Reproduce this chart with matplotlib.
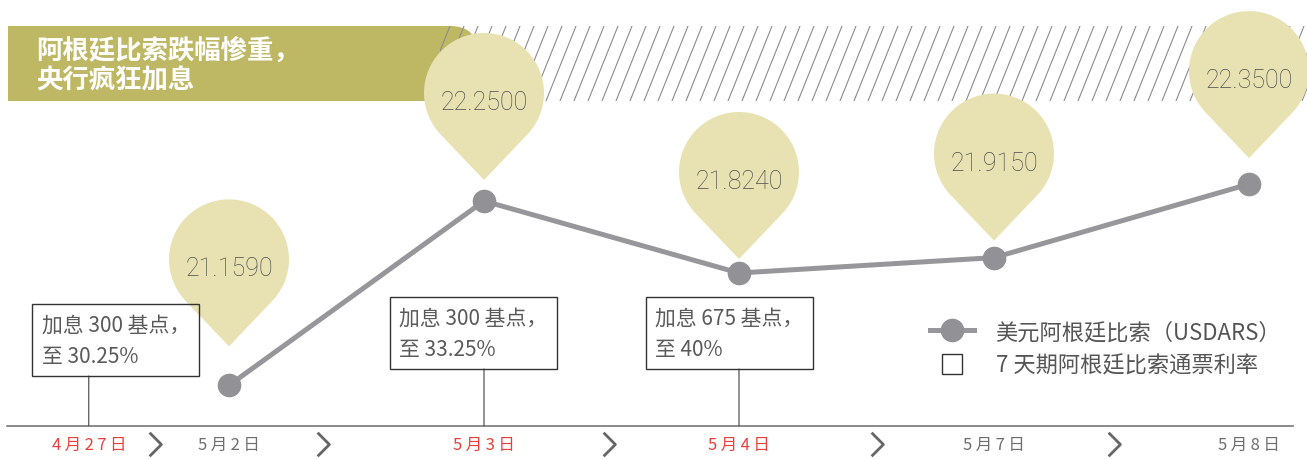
import numpy as np
import matplotlib
matplotlib.use("Agg")
import matplotlib.pyplot as plt
import matplotlib.transforms as mtransforms
from matplotlib.path import Path
from matplotlib.patches import PathPatch, Rectangle, FancyBboxPatch
from matplotlib.lines import Line2D
from matplotlib.legend_handler import HandlerPatch

plt.rcParams['font.family'] = ['Noto Sans CJK SC', 'DejaVu Sans']
num_fam = ['Roboto', 'DejaVu Sans']

# ---- data ----
dates = ["5月2日", "5月3日", "5月4日", "5月7日", "5月8日"]
usdars = [21.1590, 22.2500, 21.8240, 21.9150, 22.3500]
first_date = "4月27日"
hike_dates = ["4月27日", "5月3日", "5月4日"]
hike_bp = [300, 300, 675]
hike_rate = ["30.25%", "33.25%", "40%"]
title_lines = ["阿根廷比索跌幅惨重，", "央行疯狂加息"]
legend_labels = ["美元阿根廷比索（USDARS）", "7 天期阿根廷比索通票利率"]

# colours
olive = "#BEB865"
pin_color = "#E8E2B2"
line_color = "#97979B"
red = "#E8403A"
gray_txt = "#6E6E6E"

W, H = 1307, 460
fig = plt.figure(figsize=(W / 100, H / 100), dpi=100)

# background layer in pixel units (title band + hatching)
bg = fig.add_axes([0, 0, 1, 1], zorder=0)
bg.set_xlim(0, W)
bg.set_ylim(H, 0)
bg.axis("off")

clip = Rectangle((440, 27), W - 440, 75, transform=bg.transData)
for x0 in np.arange(420, W + 20, 14):
    ln, = bg.plot([x0, x0 + 30], [102, 27], color="#8C8C8C", lw=0.8)
    ln.set_clip_path(clip)
bg.add_patch(Rectangle((8, 27), 430, 75, facecolor=olive, edgecolor="none"))
bg.add_patch(FancyBboxPatch((380, 27), 98, 75, boxstyle="round,pad=0,rounding_size=28",
                            facecolor=olive, edgecolor="none"))
for i, t in enumerate(title_lines):
    bg.text(36, 52 + 29 * i, t, color="white", fontsize=19, fontweight="bold", va="center")

# main axes: bottom spine is the date axis
ax = fig.add_axes([7 / W, 33 / H, 1286 / W, 427 / H], zorder=1)
ax.set_facecolor("none")
xs = np.arange(len(dates))
ax.set_xlim(-0.8706, 4.1725)
ax.set_ylim(20.9186, 23.4453)
for s in ["top", "left", "right"]:
    ax.spines[s].set_visible(False)
ax.spines["bottom"].set_color("#777777")
ax.spines["bottom"].set_linewidth(1.2)
ax.set_yticks([])

# date tick labels (spaced out)
tick_labels = [first_date] + dates
tick_pos = [-0.55] + list(xs)
spaced = ["\u2009".join(t) for t in tick_labels]
ax.set_xticks(tick_pos, spaced)
ax.tick_params(axis="x", length=0, pad=7, labelsize=12)
for lab, name in zip(ax.get_xticklabels(), tick_labels):
    lab.set_color(red if name in hike_dates else gray_txt)

# chevrons between dates
chev = Path([(-0.5, 1), (0.5, 0), (-0.5, -1)], [Path.MOVETO, Path.LINETO, Path.LINETO])
arrow_pos = [-0.29, 0.37, 1.49, 2.54, 3.47]
ax.plot(arrow_pos, [-0.042] * len(arrow_pos), ls="none", marker=chev, ms=17,
        mfc="none", mec="#666666", mew=2.0, transform=ax.get_xaxis_transform(), clip_on=False)

# pins with values
def pin_path(r=60, d=87):
    phi = np.arccos(r / d)
    start = -np.pi / 2 + phi
    angles = np.linspace(start, start + 2 * np.pi - 2 * phi, 90)
    verts = [(r * np.cos(a), r * np.sin(a)) for a in angles] + [(0, -d), (0, 0)]
    codes = [Path.MOVETO] + [Path.LINETO] * (len(verts) - 2) + [Path.CLOSEPOLY]
    return Path(verts, codes)

pin = pin_path()
pin_offsets = [126, 108, 101, 104, 113]
for x, v, off in zip(xs, usdars, pin_offsets):
    tr = (mtransforms.Affine2D().translate(0, off).scale(1 / fig.dpi)
          + fig.dpi_scale_trans + mtransforms.ScaledTranslation(x, v, ax.transData))
    ax.add_patch(PathPatch(pin, transform=tr, facecolor=pin_color, edgecolor="none",
                           zorder=2, clip_on=False))
    ax.annotate(f"{v:.4f}", xy=(x, v), xytext=(0, off - 9), textcoords="offset pixels",
                ha="center", va="center", fontsize=18, color="#4E4E4E", zorder=3,
                family=num_fam, fontweight="light")

# USDARS line
ax.plot(xs, usdars, color=line_color, lw=3.6, marker="o", ms=16,
        mfc="#929296", mec="#929296", zorder=4, solid_capstyle="round")

# rate-hike boxes
hike_x = [tick_pos[tick_labels.index(d)] for d in hike_dates]
box_rise = [50, 57, 57]
text_dx = [-47, -85, -84]
xt = ax.get_xaxis_transform()
for hx, bp, rate, rise, dx in zip(hike_x, hike_bp, hike_rate, box_rise, text_dx):
    ax.annotate("", xy=(hx, 0), xycoords=xt, xytext=(0, rise), textcoords="offset pixels",
                arrowprops=dict(arrowstyle="-", color="#555555", lw=0.9, shrinkA=0, shrinkB=0))
    ax.annotate(f"加息 {bp} 基点，\n至 {rate}", xy=(hx, 0), xycoords=xt,
                xytext=(dx, rise + 9), textcoords="offset pixels", ha="left", va="bottom",
                fontsize=15, color="#5A5A5A", linespacing=1.55, zorder=5,
                bbox=dict(boxstyle="square,pad=0.45", fc="none", ec="#333333", lw=1.0))

# legend
def square_patch(legend, orig_handle, xdescent, ydescent, width, height, fontsize):
    s = fontsize * 0.9
    return Rectangle((-xdescent + (width - s) / 2, -ydescent + (height - s) / 2), s, s)

handles = [Line2D([], [], color=line_color, lw=3.6, marker="o", ms=16,
                  mfc="#929296", mec="#929296"),
           Rectangle((0, 0), 1, 1, facecolor="white", edgecolor="#333333", lw=1.0)]
leg = ax.legend(handles, legend_labels, handler_map={Rectangle: HandlerPatch(patch_func=square_patch)},
                loc="upper left", bbox_to_anchor=(930 / W, 1 - 321 / H), bbox_transform=fig.transFigure,
                frameon=False, handlelength=2.0, handletextpad=0.95,
                labelspacing=0.48, borderpad=0, borderaxespad=0,
                prop=dict(size=16))
for t in leg.get_texts():
    t.set_color("#555555")

fig.savefig("out.png", dpi=100)
